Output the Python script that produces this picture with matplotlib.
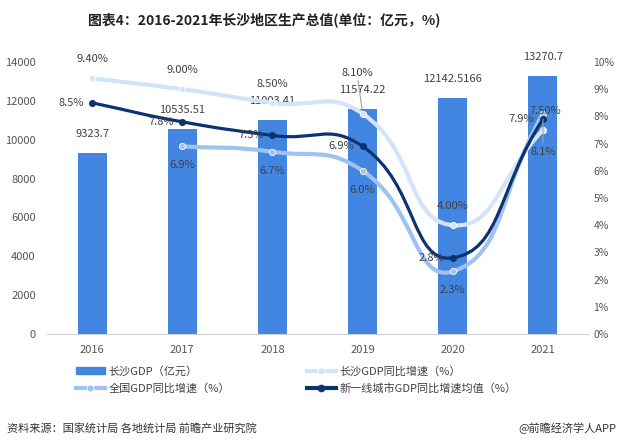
import numpy as np
import matplotlib
matplotlib.use('Agg')
import matplotlib.pyplot as plt
from matplotlib.path import Path
from matplotlib.patches import PathPatch
from matplotlib.lines import Line2D
from matplotlib.patches import Patch

plt.rcParams['font.family'] = ['Noto Sans CJK SC', 'DejaVu Sans']

### Данные
years = ['2016', '2017', '2018', '2019', '2020', '2021']
gdp = [9323.7, 10535.51, 11003.41, 11574.22, 12142.5166, 13270.7]
gdp_labels = ['9323.7', '10535.51', '11003.41', '11574.22', '12142.5166', '13270.7']
cs_growth = [9.4, 9.0, 8.5, 8.1, 4.0, 7.5]
cn_growth = [None, 6.9, 6.7, 6.0, 2.3, 8.1]
tier1_growth = [8.5, 7.8, 7.3, 6.9, 2.8, 7.9]

left_ticks = [0, 2000, 4000, 6000, 8000, 10000, 12000, 14000]
right_ticks = list(range(0, 11))

c_bar = '#4286e1'
c_cs = '#d3e4f9'
c_cn = '#9fc2f0'
c_t1 = '#0c3370'
c_txt = '#404040'


def smooth_path(ax, xs, ys, smooth=0.5):
    # сглаживание в пикселях, как у echarts
    pts = ax.transData.transform(np.column_stack([xs, ys]))
    n = len(pts)
    verts = [pts[0]]
    codes = [Path.MOVETO]
    cps = []
    for i in range(n):
        p = pts[i]
        prev = pts[i - 1] if i > 0 else p
        nxt = pts[i + 1] if i < n - 1 else p
        v = (nxt - prev) * smooth
        d0 = np.hypot(*(p - prev))
        d1 = np.hypot(*(p - nxt))
        s = d0 + d1
        if s:
            d0, d1 = d0 / s, d1 / s
        cps.append((p - v * d0, p + v * d1))
    for i in range(n - 1):
        verts += [cps[i][1], cps[i + 1][0], pts[i + 1]]
        codes += [Path.CURVE4] * 3
    verts = ax.transData.inverted().transform(np.array(verts))
    return Path(verts, codes)


fig = plt.figure(figsize=(6.18, 4.48), dpi=100)
ax = fig.add_axes([47 / 618, 1 - 334 / 448, 541 / 618, 272 / 448])
ax2 = ax.twinx()

x = np.arange(len(years))
ax.bar(x, gdp, width=0.32, color=c_bar, zorder=1)
ax.set_xlim(-0.5, 5.5)
ax.set_ylim(0, 14000)
ax.set_yticks(left_ticks)
ax.set_xticks(x)
ax.set_xticklabels(years)
ax2.set_ylim(0, 10)
ax2.set_yticks(right_ticks)
ax2.set_yticklabels([f'{t}%' for t in right_ticks])

for a in (ax, ax2):
    for sp in a.spines.values():
        sp.set_visible(False)
    a.tick_params(length=0, labelsize=8, colors='#555555')
ax.spines['bottom'].set_visible(True)
ax.spines['bottom'].set_color('#d0d0d0')
ax.tick_params(axis='x', pad=8)
ax.tick_params(axis='y', pad=8)
ax2.tick_params(axis='y', pad=4, labelsize=7.5)

for xi, v, lab in zip(x, gdp, gdp_labels):
    ax.annotate(lab, (xi, v), xytext=(0, 10), textcoords='offset points',
                ha='center', va='bottom', fontsize=8, color=c_txt, zorder=5)

# линии
series = [(cs_growth, c_cs, 3.0), (cn_growth, c_cn, 3.0), (tier1_growth, c_t1, 2.3)]
for vals, col, lw in series:
    xs = [xi for xi, v in zip(x, vals) if v is not None]
    ys = [v for v in vals if v is not None]
    path = smooth_path(ax2, xs, ys)
    ax2.add_patch(PathPatch(path, fill=False, edgecolor=col, lw=lw, zorder=3, capstyle='round'))
    ax2.plot(xs, ys, 'o', ms=4.5, color=col, mec='white' if col != c_t1 else col, mew=0.6, zorder=4)

lab_kw = dict(textcoords='offset points', fontsize=8, color=c_txt, zorder=6)
for i, v in enumerate(cs_growth):
    if i in (3, 5):
        continue
    ax2.annotate(f'{v:.2f}%', (i, v), xytext=(0, 10), ha='center', va='bottom', **lab_kw)
ax2.annotate(f'{cs_growth[3]:.2f}%', (3, cs_growth[3]), xytext=(-4, 26), ha='center', va='bottom',
             arrowprops=dict(arrowstyle='-', color='#a0a0a0', lw=0.8, shrinkA=0, shrinkB=3), **lab_kw)
ax2.annotate(f'{cs_growth[5]:.2f}%', (5, cs_growth[5]), xytext=(2, 14), ha='center', va='center',
             **lab_kw)
for i, v in enumerate(cn_growth):
    if v is None:
        continue
    if i == 5:
        ax2.annotate(f'{v:.1f}%', (i, v), xytext=(0, -24), ha='center', va='top',
                     arrowprops=dict(arrowstyle='-', color='#a0a0a0', lw=0.8, shrinkA=0, shrinkB=4),
                     **lab_kw)
    else:
        ax2.annotate(f'{v:.1f}%', (i, v), xytext=(0, -10), ha='center', va='top', **lab_kw)
for i, v in enumerate(tier1_growth):
    ax2.annotate(f'{v:.1f}%', (i, v), xytext=(-6, 0), ha='right', va='center', **lab_kw)

fig.text(88 / 618, 1 - 20 / 448, '图表4：2016-2021年长沙地区生产总值(单位：亿元，%)',
         fontsize=10, fontweight='bold', color='#222222', va='center', ha='left')

# легенда
h1 = [Patch(color=c_bar), Line2D([], [], color=c_cn, lw=3, marker='o', ms=5, mec='white', mew=0.6)]
h2 = [Line2D([], [], color=c_cs, lw=3, marker='o', ms=5, mec='white', mew=0.6),
      Line2D([], [], color=c_t1, lw=3, marker='o', ms=4.5)]
leg_kw = dict(loc='upper left', frameon=False, fontsize=8, handlelength=2.6, handleheight=0.6,
              handletextpad=0.3, labelspacing=0.55, borderaxespad=0, borderpad=0, labelcolor='#404040')
fig.legend(h1, ['长沙GDP（亿元）', '全国GDP同比增速（%）'],
           bbox_to_anchor=(76 / 618, 1 - 366 / 448), **leg_kw)
fig.legend(h2, ['长沙GDP同比增速（%）', '新一线城市GDP同比增速均值（%）'],
           bbox_to_anchor=(307 / 618, 1 - 366 / 448), **leg_kw)

fig.text(7 / 618, 1 - 428 / 448, '资料来源：国家统计局 各地统计局 前瞻产业研究院',
         fontsize=8, color='#333333', va='center', ha='left')
fig.text(616 / 618, 1 - 428 / 448, '@前瞻经济学人APP',
         fontsize=8, color='#333333', va='center', ha='right')

plt.savefig('out.png', dpi=100)
